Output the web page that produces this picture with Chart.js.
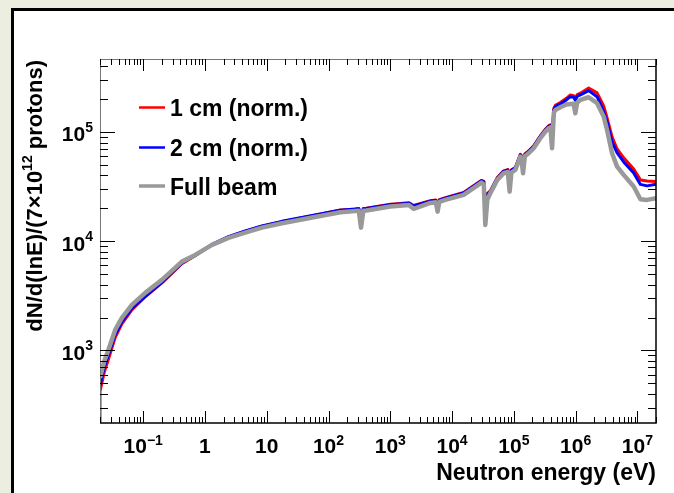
<!DOCTYPE html>
<html><head><meta charset="utf-8">
<script src="https://cdn.jsdelivr.net/npm/chart.js@4/dist/chart.umd.min.js"></script>
<style>html,body{margin:0;padding:0;background:#ECEEDF;overflow:hidden}canvas{display:block}</style>
</head><body>
<canvas id="c" width="674" height="493"></canvas>
<script>
// ---- data ----
const energies = [0.02,0.0233,0.0274,0.0352,0.0452,0.0656,0.108,0.201,0.423,0.695,1.3,2.4,4.48,8.36,17.6,57.3,155,271,309,336,366,409,1000,2000,2384,4446,5458,5834,6209,7780,15390,23800,29800,32660,34530,37240,41600,54000,68400,80000,85500,91200,105700,127400,132100,140900,150700,173700,209300,268700,323600,366300,390000,415600,444600,470100,566400,708400,822000,929000,990000,1059000,1193000,1627000,2225000,2846000,3230000,3890000,4690000,6000000,8710000,11190000,14360000,20000000];
const fullBeam = [561,787,1014,1542,1986,2612,3366,4426,6505,7493,9250,10720,11990,13310,14620,16590,18420,18940,19000,13310,19050,19140,20750,21480,19800,22390,22700,18660,22900,23880,26540,31420,34380,33000,14090,24000,27480,36400,41900,43000,28430,42500,44870,59400,58000,41900,60000,63800,70960,87560,100600,108100,110000,70960,150000,158900,168200,178500,180400,181000,148300,185000,196300,207700,183400,138100,104300,63800,48150,40460,31640,24230,23880,24730];
const cm2 = [474,693,912,1390,1830,2430,3130,4200,6310,7400,9350,11000,12400,13800,15200,17300,19200,19700,19800,17000,19850,19900,21600,22300,21000,23300,23600,21000,23800,24800,27600,32700,35800,35000,22000,27000,28600,37900,43600,44800,31000,44500,46700,61800,60300,46000,62400,66400,73800,91100,104600,112400,114000,90000,160000,170300,180400,196300,210300,208000,195000,212000,218100,238900,210300,153500,123400,80900,64200,53200,42200,33100,32100,33250];
const cm1 = [421,624,830,1310,1750,2350,3100,4160,6240,7350,9300,10950,12300,13700,15100,17200,19300,19600,19900,16800,19950,20000,21800,22500,21200,23500,23800,21200,24000,25000,27900,33000,36000,35200,22500,27300,28900,38200,44000,45200,31500,45000,47200,62300,60800,46500,63000,67000,74500,92000,106000,114000,116000,92000,165000,175000,186000,203000,218000,215000,200000,220000,226000,252700,227600,173000,134300,90000,69800,57900,45800,36400,35600,35100];
const cm1EdgeFloor = 150; // first histogram bin edge of the 1 cm curve drops below the axis
const seriesLabels = ["1 cm (norm.)", "2 cm (norm.)", "Full beam"];
const seriesColors = ["#ff0000", "#0000ff", "#999999"];
const xRange = [0.02, 2e7];
const yRange = [217, 465000];
const xTickValues = [0.1, 1, 10, 100, 1e3, 1e4, 1e5, 1e6, 1e7];
const xTickLabels = [["10","\u22121"],["1",""],["10",""],["10","2"],["10","3"],["10","4"],["10","5"],["10","6"],["10","7"]];
const yTickValues = [1e3, 1e4, 1e5];
const yTickLabels = [["10","3"],["10","4"],["10","5"]];
const xTitle = "Neutron energy (eV)";
const yTitleParts = ["dN/d(lnE)/(7\u00d710", "12", " protons)"];

const FONT = "'Liberation Sans', Arial, Helvetica, sans-serif";

function toPts(vals){ return energies.map((e,i)=>({x:e,y:vals[i]})); }

const framePlugin = {
  id: 'rootFrame',
  beforeDraw(chart){
    const ctx = chart.ctx;
    ctx.save();
    ctx.fillStyle = '#ECEEDF';
    ctx.fillRect(0,0,chart.width,chart.height);
    ctx.fillStyle = '#ffffff';
    ctx.fillRect(11,8,chart.width-11,chart.height-8);
    ctx.fillStyle = '#000000';
    ctx.fillRect(11,8,3,chart.height-8);
    ctx.fillRect(11,8,chart.width-11,3);
    ctx.restore();
  },
  afterDatasetsDraw(chart){
    const ctx = chart.ctx;
    const a = chart.chartArea;
    const xs = chart.scales.x, ys = chart.scales.y;
    ctx.save();
    // frame
    ctx.lineWidth = 1;
    ctx.strokeStyle = '#777';
    ctx.beginPath();
    ctx.moveTo(a.left+0.5, a.bottom); ctx.lineTo(a.left+0.5, a.top+0.5); ctx.lineTo(a.right, a.top+0.5);
    ctx.stroke();
    ctx.strokeStyle = '#000';
    ctx.lineWidth = 1.5;
    ctx.beginPath();
    ctx.moveTo(a.left, a.bottom); ctx.lineTo(a.right, a.bottom); ctx.lineTo(a.right, a.top);
    ctx.stroke();
    // x ticks (major + minor), inward on bottom and top
    ctx.lineWidth = 1;
    ctx.strokeStyle = '#000';
    const lx0 = Math.floor(Math.log10(xRange[0])), lx1 = Math.ceil(Math.log10(xRange[1]));
    ctx.beginPath();
    for (let d = lx0; d <= lx1; d++){
      for (let m = 1; m <= 9; m++){
        const v = m*Math.pow(10,d);
        if (v < xRange[0]*0.999 || v > xRange[1]*1.001) continue;
        const px = Math.round(xs.getPixelForValue(v))+0.5;
        const len = (m===1) ? 12 : 6;
        ctx.moveTo(px, a.bottom); ctx.lineTo(px, a.bottom-len);
        ctx.moveTo(px, a.top); ctx.lineTo(px, a.top+len);
      }
    }
    const ly0 = Math.floor(Math.log10(yRange[0])), ly1 = Math.ceil(Math.log10(yRange[1]));
    for (let d = ly0; d <= ly1; d++){
      for (let m = 1; m <= 9; m++){
        const v = m*Math.pow(10,d);
        if (v < yRange[0] || v > yRange[1]) continue;
        const py = Math.round(ys.getPixelForValue(v))+0.5;
        const len = (m===1) ? 15 : 8;
        ctx.moveTo(a.left, py); ctx.lineTo(a.left+len, py);
        ctx.moveTo(a.right, py); ctx.lineTo(a.right-len, py);
      }
    }
    ctx.stroke();

    // tick labels
    ctx.fillStyle = '#000';
    ctx.textBaseline = 'alphabetic';
    ctx.textAlign = 'left';
    const big = "bold 21px " + FONT, small = "bold 14px " + FONT;
    xTickValues.forEach((v,i)=>{
      const [b,s] = xTickLabels[i];
      ctx.font = big; const w1 = ctx.measureText(b).width;
      ctx.font = small; const w2 = s ? ctx.measureText(s).width : 0;
      const cx = xs.getPixelForValue(v);
      const x0 = cx - (w1+w2)/2;
      ctx.font = big; ctx.fillText(b, x0, a.bottom+30);
      if (s){ ctx.font = small; ctx.fillText(s, x0+w1, a.bottom+22); }
    });
    yTickValues.forEach((v,i)=>{
      const [b,s] = yTickLabels[i];
      ctx.font = big; const w1 = ctx.measureText(b).width;
      ctx.font = small; const w2 = s ? ctx.measureText(s).width : 0;
      const cy = ys.getPixelForValue(v);
      const x0 = 93 - (w1+w2);
      ctx.font = big; ctx.fillText(b, x0, cy+9.5);
      if (s){ ctx.font = small; ctx.fillText(s, x0+w1, cy); }
    });

    // x title
    ctx.font = "bold 23px " + FONT;
    ctx.textAlign = 'right';
    ctx.fillText(xTitle, a.right, a.bottom+57);

    // y title (rotated, right-aligned to top of axis)
    ctx.save();
    ctx.translate(42, a.top+1);
    ctx.rotate(-Math.PI/2);
    ctx.textAlign = 'left';
    const tf = "bold 22px " + FONT, sf = "bold 14px " + FONT;
    ctx.font = tf; const p0 = ctx.measureText(yTitleParts[0]).width;
    ctx.font = sf; const p1 = ctx.measureText(yTitleParts[1]).width;
    ctx.font = tf; const p2 = ctx.measureText(yTitleParts[2]).width;
    let sx = -(p0+p1+p2);
    ctx.font = tf; ctx.fillText(yTitleParts[0], sx, 0); sx += p0;
    ctx.font = sf; ctx.fillText(yTitleParts[1], sx, -10); sx += p1;
    ctx.font = tf; ctx.fillText(yTitleParts[2], sx, 0);
    ctx.restore();

    // legend
    const rows = [107.5, 147.5, 186];
    const widths = [2.5, 2.5, 3.5];
    ctx.font = "bold 23px " + FONT;
    ctx.textAlign = 'left';
    seriesLabels.forEach((lab,i)=>{
      ctx.strokeStyle = seriesColors[i];
      ctx.lineWidth = widths[i];
      ctx.beginPath(); ctx.moveTo(139, rows[i]); ctx.lineTo(165, rows[i]); ctx.stroke();
      ctx.fillStyle = '#000';
      ctx.fillText(lab, 170, rows[i]+8.5);
    });
    ctx.restore();
  }
};

const redPts = [{x: energies[0], y: cm1EdgeFloor}].concat(toPts(cm1));
const common = { pointRadius: 0, tension: 0, clip: 0, borderJoinStyle: 'round' };

new Chart(document.getElementById('c'), {
  type: 'line',
  data: {
    datasets: [
      Object.assign({ label: seriesLabels[0], data: redPts, borderColor: seriesColors[0], borderWidth: 3, order: 2 }, common),
      Object.assign({ label: seriesLabels[1], data: toPts(cm2), borderColor: seriesColors[1], borderWidth: 3, order: 1 }, common),
      Object.assign({ label: seriesLabels[2], data: toPts(fullBeam), borderColor: seriesColors[2], borderWidth: 4.5, order: 0 }, common)
    ]
  },
  options: {
    responsive: false,
    animation: false,
    devicePixelRatio: 1,
    layout: { padding: { left: 100, top: 59, right: 18, bottom: 70 } },
    plugins: { legend: { display: false }, tooltip: { enabled: false } },
    scales: {
      x: { type: 'logarithmic', min: xRange[0], max: xRange[1], display: false },
      y: { type: 'logarithmic', min: yRange[0], max: yRange[1], display: false }
    }
  },
  plugins: [framePlugin]
});
</script>
</body></html>
